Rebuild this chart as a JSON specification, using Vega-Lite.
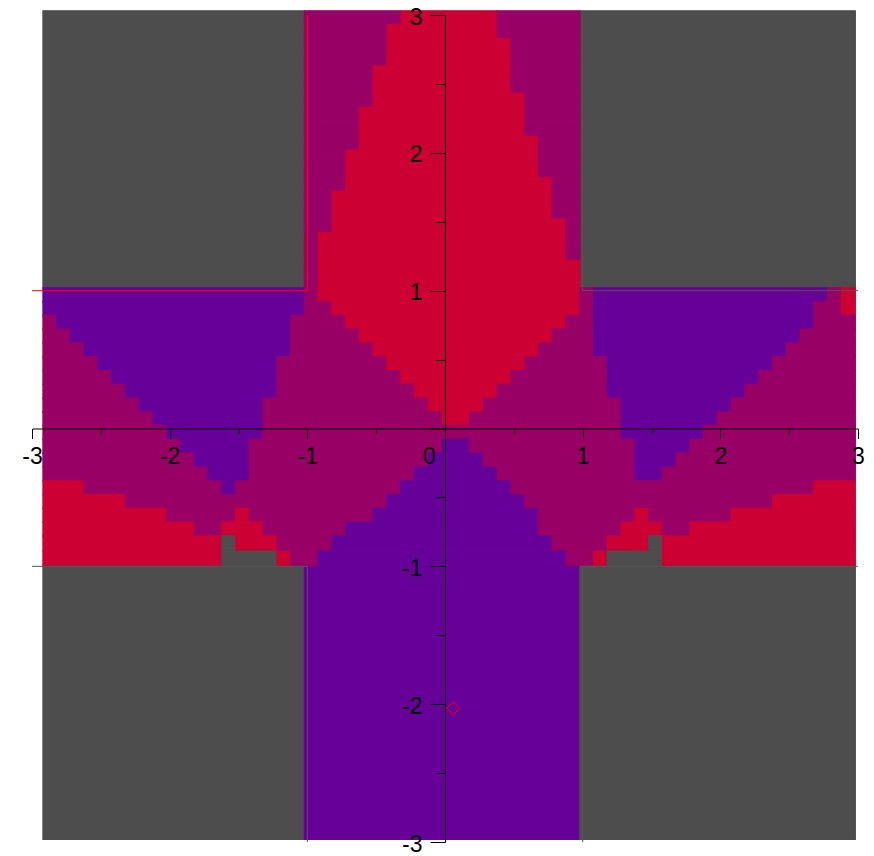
{
  "$schema": "https://vega.github.io/schema/vega-lite/v6.json",
  "width": 826,
  "height": 827,
  "autosize": "none",
  "padding": {"left": 32, "top": 15, "right": 16, "bottom": 14},
  "background": "white",
  "config": {"view": {"stroke": null}},
  "datasets": {
    "cells": [
      {"x":-2.92,"x2":-1.02,"y":3.03,"y2":1.02,"c":"G"},
      {"x":0.98,"x2":2.98,"y":3.03,"y2":1.02,"c":"G"},
      {"x":-2.92,"x2":-1.02,"y":-0.99,"y2":-2.98,"c":"G"},
      {"x":-1.02,"x2":0.98,"y":-0.99,"y2":-2.98,"c":"P"},
      {"x":0.98,"x2":2.98,"y":-0.99,"y2":-2.98,"c":"G"},

      {"x":-1.02,"x2":-0.32,"y":3.03,"y2":2.93,"c":"M"},
      {"x":-0.32,"x2":0.38,"y":3.03,"y2":2.93,"c":"R"},
      {"x":0.38,"x2":0.98,"y":3.03,"y2":2.93,"c":"M"},
      {"x":-1.02,"x2":-0.42,"y":2.93,"y2":2.83,"c":"M"},
      {"x":-0.42,"x2":0.38,"y":2.93,"y2":2.83,"c":"R"},
      {"x":0.38,"x2":0.98,"y":2.93,"y2":2.83,"c":"M"},
      {"x":-1.02,"x2":-0.42,"y":2.83,"y2":2.73,"c":"M"},
      {"x":-0.42,"x2":0.48,"y":2.83,"y2":2.73,"c":"R"},
      {"x":0.48,"x2":0.98,"y":2.83,"y2":2.73,"c":"M"},
      {"x":-1.02,"x2":-0.42,"y":2.73,"y2":2.63,"c":"M"},
      {"x":-0.42,"x2":0.48,"y":2.73,"y2":2.63,"c":"R"},
      {"x":0.48,"x2":0.98,"y":2.73,"y2":2.63,"c":"M"},
      {"x":-1.02,"x2":-0.52,"y":2.63,"y2":2.53,"c":"M"},
      {"x":-0.52,"x2":0.48,"y":2.63,"y2":2.53,"c":"R"},
      {"x":0.48,"x2":0.98,"y":2.63,"y2":2.53,"c":"M"},
      {"x":-1.02,"x2":-0.52,"y":2.53,"y2":2.43,"c":"M"},
      {"x":-0.52,"x2":0.48,"y":2.53,"y2":2.43,"c":"R"},
      {"x":0.48,"x2":0.98,"y":2.53,"y2":2.43,"c":"M"},
      {"x":-1.02,"x2":-0.52,"y":2.43,"y2":2.33,"c":"M"},
      {"x":-0.52,"x2":0.58,"y":2.43,"y2":2.33,"c":"R"},
      {"x":0.58,"x2":0.98,"y":2.43,"y2":2.33,"c":"M"},
      {"x":-1.02,"x2":-0.62,"y":2.33,"y2":2.23,"c":"M"},
      {"x":-0.62,"x2":0.58,"y":2.33,"y2":2.23,"c":"R"},
      {"x":0.58,"x2":0.98,"y":2.33,"y2":2.23,"c":"M"},
      {"x":-1.02,"x2":-0.62,"y":2.23,"y2":2.12,"c":"M"},
      {"x":-0.62,"x2":0.58,"y":2.23,"y2":2.12,"c":"R"},
      {"x":0.58,"x2":0.98,"y":2.23,"y2":2.12,"c":"M"},
      {"x":-1.02,"x2":-0.62,"y":2.12,"y2":2.02,"c":"M"},
      {"x":-0.62,"x2":0.68,"y":2.12,"y2":2.02,"c":"R"},
      {"x":0.68,"x2":0.98,"y":2.12,"y2":2.02,"c":"M"},
      {"x":-1.02,"x2":-0.72,"y":2.02,"y2":1.92,"c":"M"},
      {"x":-0.72,"x2":0.68,"y":2.02,"y2":1.92,"c":"R"},
      {"x":0.68,"x2":0.98,"y":2.02,"y2":1.92,"c":"M"},
      {"x":-1.02,"x2":-0.72,"y":1.92,"y2":1.82,"c":"M"},
      {"x":-0.72,"x2":0.68,"y":1.92,"y2":1.82,"c":"R"},
      {"x":0.68,"x2":0.98,"y":1.92,"y2":1.82,"c":"M"},
      {"x":-1.02,"x2":-0.72,"y":1.82,"y2":1.72,"c":"M"},
      {"x":-0.72,"x2":0.78,"y":1.82,"y2":1.72,"c":"R"},
      {"x":0.78,"x2":0.98,"y":1.82,"y2":1.72,"c":"M"},
      {"x":-1.02,"x2":-0.82,"y":1.72,"y2":1.62,"c":"M"},
      {"x":-0.82,"x2":0.78,"y":1.72,"y2":1.62,"c":"R"},
      {"x":0.78,"x2":0.98,"y":1.72,"y2":1.62,"c":"M"},
      {"x":-1.02,"x2":-0.82,"y":1.62,"y2":1.52,"c":"M"},
      {"x":-0.82,"x2":0.78,"y":1.62,"y2":1.52,"c":"R"},
      {"x":0.78,"x2":0.98,"y":1.62,"y2":1.52,"c":"M"},
      {"x":-1.02,"x2":-0.82,"y":1.52,"y2":1.42,"c":"M"},
      {"x":-0.82,"x2":0.88,"y":1.52,"y2":1.42,"c":"R"},
      {"x":0.88,"x2":0.98,"y":1.52,"y2":1.42,"c":"M"},
      {"x":-1.02,"x2":-0.92,"y":1.42,"y2":1.32,"c":"M"},
      {"x":-0.92,"x2":0.88,"y":1.42,"y2":1.32,"c":"R"},
      {"x":0.88,"x2":0.98,"y":1.42,"y2":1.32,"c":"M"},
      {"x":-1.02,"x2":-0.92,"y":1.32,"y2":1.22,"c":"M"},
      {"x":-0.92,"x2":0.88,"y":1.32,"y2":1.22,"c":"R"},
      {"x":0.88,"x2":0.98,"y":1.32,"y2":1.22,"c":"M"},
      {"x":-1.02,"x2":-0.92,"y":1.22,"y2":1.12,"c":"M"},
      {"x":-0.92,"x2":0.98,"y":1.22,"y2":1.12,"c":"R"},
      {"x":-1.02,"x2":-0.92,"y":1.12,"y2":1.02,"c":"M"},
      {"x":-0.92,"x2":0.98,"y":1.12,"y2":1.02,"c":"R"},

      {"x":-2.92,"x2":-1.02,"y":1.02,"y2":0.92,"c":"P"},
      {"x":-1.02,"x2":-0.92,"y":1.02,"y2":0.92,"c":"M"},
      {"x":-0.92,"x2":0.98,"y":1.02,"y2":0.92,"c":"R"},
      {"x":0.98,"x2":1.08,"y":1.02,"y2":0.92,"c":"M"},
      {"x":1.08,"x2":2.78,"y":1.02,"y2":0.92,"c":"P"},
      {"x":2.78,"x2":2.88,"y":1.02,"y2":0.92,"c":"M"},
      {"x":2.88,"x2":2.98,"y":1.02,"y2":0.92,"c":"R"},

      {"x":-2.92,"x2":-1.02,"y":0.92,"y2":0.82,"c":"P"},
      {"x":-1.02,"x2":-0.82,"y":0.92,"y2":0.82,"c":"M"},
      {"x":-0.82,"x2":0.98,"y":0.92,"y2":0.82,"c":"R"},
      {"x":0.98,"x2":1.08,"y":0.92,"y2":0.82,"c":"M"},
      {"x":1.08,"x2":2.68,"y":0.92,"y2":0.82,"c":"P"},
      {"x":2.68,"x2":2.88,"y":0.92,"y2":0.82,"c":"M"},
      {"x":2.88,"x2":2.98,"y":0.92,"y2":0.82,"c":"R"},

      {"x":-2.92,"x2":-2.82,"y":0.82,"y2":0.72,"c":"M"},
      {"x":-2.82,"x2":-1.12,"y":0.82,"y2":0.72,"c":"P"},
      {"x":-1.12,"x2":-0.72,"y":0.82,"y2":0.72,"c":"M"},
      {"x":-0.72,"x2":0.88,"y":0.82,"y2":0.72,"c":"R"},
      {"x":0.88,"x2":1.08,"y":0.82,"y2":0.72,"c":"M"},
      {"x":1.08,"x2":2.68,"y":0.82,"y2":0.72,"c":"P"},
      {"x":2.68,"x2":2.98,"y":0.82,"y2":0.72,"c":"M"},

      {"x":-2.92,"x2":-2.72,"y":0.72,"y2":0.62,"c":"M"},
      {"x":-2.72,"x2":-1.12,"y":0.72,"y2":0.62,"c":"P"},
      {"x":-1.12,"x2":-0.62,"y":0.72,"y2":0.62,"c":"M"},
      {"x":-0.62,"x2":0.78,"y":0.72,"y2":0.62,"c":"R"},
      {"x":0.78,"x2":1.08,"y":0.72,"y2":0.62,"c":"M"},
      {"x":1.08,"x2":2.58,"y":0.72,"y2":0.62,"c":"P"},
      {"x":2.58,"x2":2.98,"y":0.72,"y2":0.62,"c":"M"},

      {"x":-2.92,"x2":-2.62,"y":0.62,"y2":0.52,"c":"M"},
      {"x":-2.62,"x2":-1.12,"y":0.62,"y2":0.52,"c":"P"},
      {"x":-1.12,"x2":-0.52,"y":0.62,"y2":0.52,"c":"M"},
      {"x":-0.52,"x2":0.68,"y":0.62,"y2":0.52,"c":"R"},
      {"x":0.68,"x2":1.08,"y":0.62,"y2":0.52,"c":"M"},
      {"x":1.08,"x2":2.48,"y":0.62,"y2":0.52,"c":"P"},
      {"x":2.48,"x2":2.98,"y":0.62,"y2":0.52,"c":"M"},

      {"x":-2.92,"x2":-2.52,"y":0.52,"y2":0.42,"c":"M"},
      {"x":-2.52,"x2":-1.22,"y":0.52,"y2":0.42,"c":"P"},
      {"x":-1.22,"x2":-0.42,"y":0.52,"y2":0.42,"c":"M"},
      {"x":-0.42,"x2":0.58,"y":0.52,"y2":0.42,"c":"R"},
      {"x":0.58,"x2":1.18,"y":0.52,"y2":0.42,"c":"M"},
      {"x":1.18,"x2":2.38,"y":0.52,"y2":0.42,"c":"P"},
      {"x":2.38,"x2":2.98,"y":0.52,"y2":0.42,"c":"M"},

      {"x":-2.92,"x2":-2.42,"y":0.42,"y2":0.32,"c":"M"},
      {"x":-2.42,"x2":-1.22,"y":0.42,"y2":0.32,"c":"P"},
      {"x":-1.22,"x2":-0.32,"y":0.42,"y2":0.32,"c":"M"},
      {"x":-0.32,"x2":0.48,"y":0.42,"y2":0.32,"c":"R"},
      {"x":0.48,"x2":1.18,"y":0.42,"y2":0.32,"c":"M"},
      {"x":1.18,"x2":2.28,"y":0.42,"y2":0.32,"c":"P"},
      {"x":2.28,"x2":2.98,"y":0.42,"y2":0.32,"c":"M"},

      {"x":-2.92,"x2":-2.32,"y":0.32,"y2":0.22,"c":"M"},
      {"x":-2.32,"x2":-1.22,"y":0.32,"y2":0.22,"c":"P"},
      {"x":-1.22,"x2":-0.22,"y":0.32,"y2":0.22,"c":"M"},
      {"x":-0.22,"x2":0.38,"y":0.32,"y2":0.22,"c":"R"},
      {"x":0.38,"x2":1.18,"y":0.32,"y2":0.22,"c":"M"},
      {"x":1.18,"x2":2.18,"y":0.32,"y2":0.22,"c":"P"},
      {"x":2.18,"x2":2.98,"y":0.32,"y2":0.22,"c":"M"},

      {"x":-2.92,"x2":-2.22,"y":0.22,"y2":0.12,"c":"M"},
      {"x":-2.22,"x2":-1.32,"y":0.22,"y2":0.12,"c":"P"},
      {"x":-1.32,"x2":-0.12,"y":0.22,"y2":0.12,"c":"M"},
      {"x":-0.12,"x2":0.28,"y":0.22,"y2":0.12,"c":"R"},
      {"x":0.28,"x2":1.28,"y":0.22,"y2":0.12,"c":"M"},
      {"x":1.28,"x2":2.08,"y":0.22,"y2":0.12,"c":"P"},
      {"x":2.08,"x2":2.98,"y":0.22,"y2":0.12,"c":"M"},

      {"x":-2.92,"x2":-2.12,"y":0.12,"y2":0.02,"c":"M"},
      {"x":-2.12,"x2":-1.32,"y":0.12,"y2":0.02,"c":"P"},
      {"x":-1.32,"x2":-0.02,"y":0.12,"y2":0.02,"c":"M"},
      {"x":-0.02,"x2":0.18,"y":0.12,"y2":0.02,"c":"R"},
      {"x":0.18,"x2":1.28,"y":0.12,"y2":0.02,"c":"M"},
      {"x":1.28,"x2":1.98,"y":0.12,"y2":0.02,"c":"P"},
      {"x":1.98,"x2":2.98,"y":0.12,"y2":0.02,"c":"M"},

      {"x":-2.92,"x2":-2.02,"y":0.02,"y2":-0.08,"c":"M"},
      {"x":-2.02,"x2":-1.32,"y":0.02,"y2":-0.08,"c":"P"},
      {"x":-1.32,"x2":1.28,"y":0.02,"y2":-0.08,"c":"M"},
      {"x":1.28,"x2":1.88,"y":0.02,"y2":-0.08,"c":"P"},
      {"x":1.88,"x2":2.98,"y":0.02,"y2":-0.08,"c":"M"},

      {"x":-2.92,"x2":-1.92,"y":-0.08,"y2":-0.18,"c":"M"},
      {"x":-1.92,"x2":-1.42,"y":-0.08,"y2":-0.18,"c":"P"},
      {"x":-1.42,"x2":-0.02,"y":-0.08,"y2":-0.18,"c":"M"},
      {"x":-0.02,"x2":0.18,"y":-0.08,"y2":-0.18,"c":"P"},
      {"x":0.18,"x2":1.38,"y":-0.08,"y2":-0.18,"c":"M"},
      {"x":1.38,"x2":1.78,"y":-0.08,"y2":-0.18,"c":"P"},
      {"x":1.78,"x2":2.98,"y":-0.08,"y2":-0.18,"c":"M"},

      {"x":-2.92,"x2":-1.82,"y":-0.18,"y2":-0.28,"c":"M"},
      {"x":-1.82,"x2":-1.42,"y":-0.18,"y2":-0.28,"c":"P"},
      {"x":-1.42,"x2":-0.12,"y":-0.18,"y2":-0.28,"c":"M"},
      {"x":-0.12,"x2":0.28,"y":-0.18,"y2":-0.28,"c":"P"},
      {"x":0.28,"x2":1.38,"y":-0.18,"y2":-0.28,"c":"M"},
      {"x":1.38,"x2":1.68,"y":-0.18,"y2":-0.28,"c":"P"},
      {"x":1.68,"x2":2.98,"y":-0.18,"y2":-0.28,"c":"M"},

      {"x":-2.92,"x2":-1.72,"y":-0.28,"y2":-0.38,"c":"M"},
      {"x":-1.72,"x2":-1.42,"y":-0.28,"y2":-0.38,"c":"P"},
      {"x":-1.42,"x2":-0.22,"y":-0.28,"y2":-0.38,"c":"M"},
      {"x":-0.22,"x2":0.38,"y":-0.28,"y2":-0.38,"c":"P"},
      {"x":0.38,"x2":1.38,"y":-0.28,"y2":-0.38,"c":"M"},
      {"x":1.38,"x2":1.58,"y":-0.28,"y2":-0.38,"c":"P"},
      {"x":1.58,"x2":2.98,"y":-0.28,"y2":-0.38,"c":"M"},

      {"x":-2.92,"x2":-2.62,"y":-0.38,"y2":-0.48,"c":"R"},
      {"x":-2.62,"x2":-1.62,"y":-0.38,"y2":-0.48,"c":"M"},
      {"x":-1.62,"x2":-1.52,"y":-0.38,"y2":-0.48,"c":"P"},
      {"x":-1.52,"x2":-0.32,"y":-0.38,"y2":-0.48,"c":"M"},
      {"x":-0.32,"x2":0.48,"y":-0.38,"y2":-0.48,"c":"P"},
      {"x":0.48,"x2":2.68,"y":-0.38,"y2":-0.48,"c":"M"},
      {"x":2.68,"x2":2.98,"y":-0.38,"y2":-0.48,"c":"R"},

      {"x":-2.92,"x2":-2.32,"y":-0.48,"y2":-0.58,"c":"R"},
      {"x":-2.32,"x2":-0.42,"y":-0.48,"y2":-0.58,"c":"M"},
      {"x":-0.42,"x2":0.58,"y":-0.48,"y2":-0.58,"c":"P"},
      {"x":0.58,"x2":2.38,"y":-0.48,"y2":-0.58,"c":"M"},
      {"x":2.38,"x2":2.98,"y":-0.48,"y2":-0.58,"c":"R"},

      {"x":-2.92,"x2":-2.02,"y":-0.58,"y2":-0.68,"c":"R"},
      {"x":-2.02,"x2":-1.52,"y":-0.58,"y2":-0.68,"c":"M"},
      {"x":-1.52,"x2":-1.42,"y":-0.58,"y2":-0.68,"c":"R"},
      {"x":-1.42,"x2":-0.52,"y":-0.58,"y2":-0.68,"c":"M"},
      {"x":-0.52,"x2":0.68,"y":-0.58,"y2":-0.68,"c":"P"},
      {"x":0.68,"x2":1.38,"y":-0.58,"y2":-0.68,"c":"M"},
      {"x":1.38,"x2":1.48,"y":-0.58,"y2":-0.68,"c":"R"},
      {"x":1.48,"x2":2.08,"y":-0.58,"y2":-0.68,"c":"M"},
      {"x":2.08,"x2":2.98,"y":-0.58,"y2":-0.68,"c":"R"},

      {"x":-2.92,"x2":-1.82,"y":-0.68,"y2":-0.78,"c":"R"},
      {"x":-1.82,"x2":-1.62,"y":-0.68,"y2":-0.78,"c":"M"},
      {"x":-1.62,"x2":-1.32,"y":-0.68,"y2":-0.78,"c":"R"},
      {"x":-1.32,"x2":-0.72,"y":-0.68,"y2":-0.78,"c":"M"},
      {"x":-0.72,"x2":0.68,"y":-0.68,"y2":-0.78,"c":"P"},
      {"x":0.68,"x2":1.28,"y":-0.68,"y2":-0.78,"c":"M"},
      {"x":1.28,"x2":1.58,"y":-0.68,"y2":-0.78,"c":"R"},
      {"x":1.58,"x2":1.78,"y":-0.68,"y2":-0.78,"c":"M"},
      {"x":1.78,"x2":2.98,"y":-0.68,"y2":-0.78,"c":"R"},

      {"x":-2.92,"x2":-1.62,"y":-0.78,"y2":-0.89,"c":"R"},
      {"x":-1.62,"x2":-1.52,"y":-0.78,"y2":-0.89,"c":"G"},
      {"x":-1.52,"x2":-1.22,"y":-0.78,"y2":-0.89,"c":"R"},
      {"x":-1.22,"x2":-0.82,"y":-0.78,"y2":-0.89,"c":"M"},
      {"x":-0.82,"x2":0.78,"y":-0.78,"y2":-0.89,"c":"P"},
      {"x":0.78,"x2":1.18,"y":-0.78,"y2":-0.89,"c":"M"},
      {"x":1.18,"x2":1.48,"y":-0.78,"y2":-0.89,"c":"R"},
      {"x":1.48,"x2":1.58,"y":-0.78,"y2":-0.89,"c":"G"},
      {"x":1.58,"x2":2.98,"y":-0.78,"y2":-0.89,"c":"R"},

      {"x":-2.92,"x2":-1.62,"y":-0.89,"y2":-0.99,"c":"R"},
      {"x":-1.62,"x2":-1.22,"y":-0.89,"y2":-0.99,"c":"G"},
      {"x":-1.22,"x2":-1.12,"y":-0.89,"y2":-0.99,"c":"R"},
      {"x":-1.12,"x2":-0.92,"y":-0.89,"y2":-0.99,"c":"M"},
      {"x":-0.92,"x2":0.88,"y":-0.89,"y2":-0.99,"c":"P"},
      {"x":0.88,"x2":1.08,"y":-0.89,"y2":-0.99,"c":"M"},
      {"x":1.08,"x2":1.18,"y":-0.89,"y2":-0.99,"c":"R"},
      {"x":1.18,"x2":1.58,"y":-0.89,"y2":-0.99,"c":"G"},
      {"x":1.58,"x2":2.98,"y":-0.89,"y2":-0.99,"c":"R"}
    ],
    "graylines": [
      {"g":"a","o":1,"x":1,"y":3},{"g":"a","o":2,"x":1,"y":1},{"g":"a","o":3,"x":3,"y":1},
      {"g":"b","o":1,"x":-3,"y":-1},{"g":"b","o":2,"x":-1,"y":-1},{"g":"b","o":3,"x":-1,"y":-3},
      {"g":"c","o":1,"x":3,"y":-1},{"g":"c","o":2,"x":1,"y":-1},{"g":"c","o":3,"x":1,"y":-3}
    ],
    "redline": [
      {"o":1,"x":-3,"y":1},{"o":2,"x":-1,"y":1},{"o":3,"x":-1,"y":3}
    ],
    "pt": [{"x":0.06,"y":-2.03}]
  },
  "layer": [
    {
      "data": {"name": "cells"},
      "mark": {"type": "rect", "strokeWidth": 1.4},
      "encoding": {
        "x": {
          "field": "x", "type": "quantitative", "title": null,
          "scale": {"domain": [-3, 3], "nice": false, "zero": false},
          "axis": {
            "orient": "bottom", "offset": -413.5, "zindex": 1, "grid": false,
            "values": [-3,-2.5,-2,-1.5,-1,-0.5,0,0.5,1,1.5,2,2.5,3],
            "labelExpr": "datum.value % 1 === 0 ? (datum.value < 0 ? '-' + abs(datum.value) : '' + datum.value) : ''",
            "labelFlush": false, "labelOverlap": false, "labelBound": false,
            "labelFont": "Liberation Sans", "labelFontSize": 23, "labelColor": "black",
            "labelPadding": 7,
            "labelOffset": {"condition": {"test": "datum.value === 0", "value": -16}, "value": 0},
            "tickSize": {"condition": {"test": "datum.value % 1 === 0", "value": 10}, "value": 5},
            "tickColor": "black", "domainColor": "black", "tickWidth": 1, "domainWidth": 1
          }
        },
        "x2": {"field": "x2"},
        "y": {
          "field": "y", "type": "quantitative", "title": null,
          "scale": {"domain": [-3, 3], "nice": false, "zero": false},
          "axis": {
            "orient": "left", "offset": -413, "zindex": 1, "grid": false,
            "values": [-3,-2.5,-2,-1.5,-1,-0.5,0,0.5,1,1.5,2,2.5,3],
            "labelExpr": "(datum.value % 1 === 0 && datum.value !== 0) ? (datum.value < 0 ? '-' + abs(datum.value) : '' + datum.value) : ''",
            "labelFlush": false, "labelOverlap": false, "labelBound": false,
            "labelFont": "Liberation Sans", "labelFontSize": 23, "labelColor": "black",
            "labelPadding": 8, "labelOffset": 2,
            "tickSize": {"condition": {"test": "datum.value % 1 === 0", "value": 15}, "value": 9},
            "tickColor": "black", "domainColor": "black", "tickWidth": 1, "domainWidth": 1
          }
        },
        "y2": {"field": "y2"},
        "fill": {
          "field": "c", "type": "nominal", "legend": null,
          "scale": {"domain": ["R","M","P","G"], "range": ["#CC0033","#990066","#660099","#4D4D4D"]}
        },
        "stroke": {
          "field": "c", "type": "nominal", "legend": null,
          "scale": {"domain": ["R","M","P","G"], "range": ["#CC0033","#990066","#660099","#4D4D4D"]}
        }
      }
    },
    {
      "data": {"name": "graylines"},
      "mark": {"type": "line", "color": "#555555", "strokeWidth": 1},
      "encoding": {
        "x": {"field": "x", "type": "quantitative", "title": null},
        "y": {"field": "y", "type": "quantitative", "title": null},
        "detail": {"field": "g"},
        "order": {"field": "o"}
      }
    },
    {
      "data": {"name": "redline"},
      "mark": {"type": "line", "color": "#FF0000", "strokeWidth": 1},
      "encoding": {
        "x": {"field": "x", "type": "quantitative", "title": null},
        "y": {"field": "y", "type": "quantitative", "title": null},
        "order": {"field": "o"}
      }
    },
    {
      "data": {"name": "pt"},
      "mark": {"type": "point", "shape": "diamond", "filled": false, "color": "#FF0000", "size": 160, "strokeWidth": 1, "opacity": 1},
      "encoding": {
        "x": {"field": "x", "type": "quantitative", "title": null},
        "y": {"field": "y", "type": "quantitative", "title": null}
      }
    }
  ]
}
